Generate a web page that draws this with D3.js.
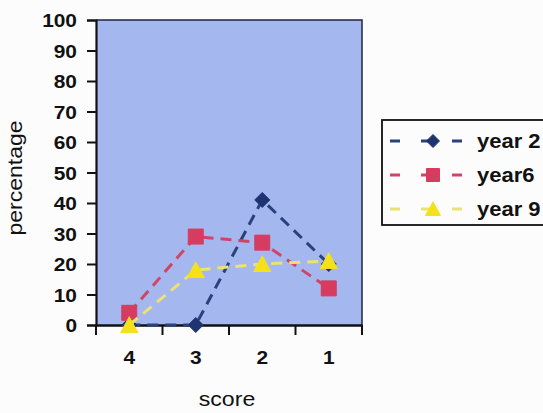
<!DOCTYPE html>
<html>
<head>
<meta charset="utf-8">
<script src="https://cdn.jsdelivr.net/npm/d3@7"></script>
<style>
  html, body { margin: 0; padding: 0; background: #fdfcfd; }
  svg { display: block; }
</style>
</head>
<body>
<svg id="chart" width="543" height="413"></svg>
<script>
// Scores along the x axis, highest first
const scores = ["4", "3", "2", "1"];
// Percentage of pupils at each score
const year2 = [0, 0, 41, 20];
const year6 = [4, 29, 27, 12];
const year9 = [0, 18, 20, 21];
const yTicks = [0, 10, 20, 30, 40, 50, 60, 70, 80, 90, 100];
const seriesNames = ["year 2", "year6", "year 9"];

const series = [
  { name: seriesNames[0], values: year2, color: "#1e336f", line: "#2a417c", shape: "diamond" },
  { name: seriesNames[1], values: year6, color: "#d63c5f", line: "#cf4467", shape: "square" },
  { name: seriesNames[2], values: year9, color: "#f4e11c", line: "#ece271", shape: "triangle" }
];

const svg = d3.select("#chart");
const plot = { left: 96, right: 362, top: 20, bottom: 325 };
const stretch = 1.1; // labels are set slightly wide

const x = d3.scaleBand().domain(scores).range([plot.left, plot.right]).padding(0);
const y = d3.scaleLinear().domain([0, 100]).range([plot.bottom, plot.top]);

// Plot area
svg.append("rect")
  .attr("x", plot.left).attr("y", plot.top)
  .attr("width", plot.right - plot.left).attr("height", plot.bottom - plot.top)
  .attr("fill", "#a4b8ef");
// Top and right frame of the plot area
svg.append("path")
  .attr("d", `M${plot.left},${plot.top}H${plot.right}V${plot.bottom + 7}`)
  .attr("fill", "none").attr("stroke", "#1d2540").attr("stroke-width", 1.5);

const font = "'Liberation Sans', Arial, sans-serif";

// Y axis
const yAxis = svg.append("g")
  .attr("transform", `translate(${plot.left},0)`)
  .call(d3.axisLeft(y).tickValues(yTicks).tickSize(9));
yAxis.select(".domain").attr("stroke", "#111").attr("stroke-width", 2.2);
yAxis.selectAll(".tick line").attr("stroke", "#111").attr("stroke-width", 2);
yAxis.selectAll(".tick text")
  .attr("x", -19 / stretch)
  .attr("transform", `scale(${stretch},1)`)
  .attr("font-family", font).attr("font-weight", "bold").attr("font-size", 19)
  .attr("fill", "#111").attr("dy", "0.36em");

// X axis: labels centred in each band, tick marks on band edges
const xAxis = svg.append("g")
  .attr("transform", `translate(0,${plot.bottom})`)
  .call(d3.axisBottom(x).tickSize(0).tickPadding(26));
xAxis.select(".domain").attr("stroke", "#111").attr("stroke-width", 2.5);
xAxis.selectAll(".tick text")
  .attr("transform", `scale(${stretch},1)`)
  .attr("font-family", font).attr("font-weight", "bold").attr("font-size", 19)
  .attr("fill", "#111");
const edges = scores.map(d => x(d)).concat([x(scores[scores.length - 1]) + x.bandwidth()]);
xAxis.selectAll("line.edge").data(edges).enter().append("line")
  .attr("class", "edge")
  .attr("x1", d => d).attr("x2", d => d)
  .attr("y1", 0).attr("y2", 10)
  .attr("stroke", "#111").attr("stroke-width", 2);

// Axis titles
svg.append("text")
  .attr("transform", `translate(22,178) rotate(-90) scale(1.15,1)`)
  .attr("text-anchor", "middle")
  .attr("font-family", font).attr("font-size", 20).attr("fill", "#111")
  .text("percentage");
svg.append("text")
  .attr("transform", `translate(227,406) scale(${stretch},1)`)
  .attr("text-anchor", "middle")
  .attr("font-family", font).attr("font-size", 21).attr("fill", "#111")
  .text("score");

// Marker shapes
function markerPath(shape, r) {
  if (shape === "diamond") return `M0,${-r}L${r},0L0,${r}L${-r},0Z`;
  if (shape === "square") return `M${-r},${-r}H${r}V${r}H${-r}Z`;
  return `M0,${-r * 1.1}L${r * 1.15},${r}H${-r * 1.15}Z`;
}

const cx = d => x(d) + x.bandwidth() / 2;
const line = d3.line().x(d => cx(d.score)).y(d => y(d.value));

series.forEach(s => {
  const pts = scores.map((sc, i) => ({ score: sc, value: s.values[i] }));
  const g = svg.append("g");
  g.append("path")
    .datum(pts)
    .attr("d", line)
    .attr("fill", "none")
    .attr("stroke", s.line)
    .attr("stroke-width", 3)
    .attr("stroke-dasharray", "11,7");
  g.selectAll("path.mark").data(pts).enter().append("path")
    .attr("class", "mark")
    .attr("transform", d => `translate(${cx(d.score)},${y(d.value)})`)
    .attr("d", markerPath(s.shape, 7.5))
    .attr("fill", s.color)
    .attr("stroke", s.color).attr("stroke-width", 1)
    .attr("stroke-linejoin", "round");
});

// Legend
const legend = svg.append("g");
legend.append("rect")
  .attr("x", 382).attr("y", 120).attr("width", 200).attr("height", 105)
  .attr("fill", "#fdfcfd").attr("stroke", "#111").attr("stroke-width", 1.8);
const legendY = [141, 175, 209];
series.forEach((s, i) => {
  const ly = legendY[i];
  legend.append("line")
    .attr("x1", 390).attr("x2", 466).attr("y1", ly).attr("y2", ly)
    .attr("stroke", s.line).attr("stroke-width", 3)
    .attr("stroke-dasharray", "10,21");
  legend.append("path")
    .attr("transform", `translate(433,${ly})`)
    .attr("d", markerPath(s.shape, 6.5))
    .attr("fill", s.color).attr("stroke", s.color).attr("stroke-width", 1);
  legend.append("text")
    .attr("transform", `translate(477,${ly + 7}) scale(${stretch},1)`)
    .attr("font-family", font).attr("font-weight", "bold").attr("font-size", 20)
    .attr("fill", "#111")
    .text(s.name);
});
</script>
</body>
</html>
